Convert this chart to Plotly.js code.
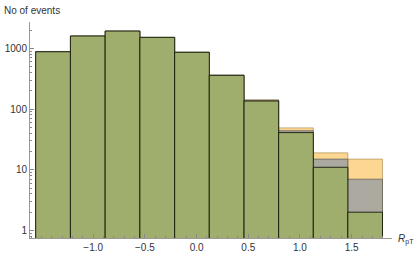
<!DOCTYPE html>
<html>
<head>
<meta charset="utf-8">
<script src="https://cdn.plot.ly/plotly-3.0.1.min.js"></script>
<style>html,body{margin:0;padding:0;background:#fff;}#chart{width:415px;height:257px;}</style>
</head>
<body>
<div id="chart"></div>
<script>
// Bin edges (R_pT)
const binEdges = [-1.556, -1.220, -0.884, -0.548, -0.212, 0.123, 0.459, 0.794, 1.129, 1.463, 1.798];
// Counts per bin for the three overlaid histograms
const orangeCounts = [890, 1600, 1930, 1520, 865, 362, 142, 49, 19, 15];
const grayCounts   = [890, 1600, 1930, 1520, 865, 362, 140, 44, 15, 7];
const greenCounts  = [880, 1600, 1930, 1520, 862, 360, 136, 41, 11, 2];
// Axis ticks
const yTickVals = [1, 10, 100, 1000];
const yTickText = ["1", "10", "100", "1000"];
const xTickVals = [-1.0, -0.5, 0.0, 0.5, 1.0, 1.5];
const xTickText = ["\u22121.0", "\u22120.5", "0.0", "0.5", "1.0", "1.5"];

const centers = binEdges.slice(0, -1).map((e, i) => (e + binEdges[i + 1]) / 2);
const widths = binEdges.slice(0, -1).map((e, i) => binEdges[i + 1] - e);

function barTrace(y, fill, line) {
  return {type: 'bar', x: centers, y: y, width: widths, base: 0.0001,
    marker: {color: fill, line: {color: line, width: 1}}, hoverinfo: 'skip', showlegend: false};
}

const yMinor = [];
for (let d = 0.1; d <= 1000; d *= 10) for (let k = 2; k <= 9; k++) yMinor.push(Math.round(d * k * 1000) / 1000);
const xMinor = [];
for (let v = -1.6; v <= 1.85; v += 0.1) xMinor.push(Math.round(v * 10) / 10);

const data = [
  barTrace(orangeCounts, '#fdd792', 'rgba(160,130,70,0.6)'),
  barTrace(grayCounts, '#aba9a0', 'rgba(70,70,70,0.6)'),
  barTrace(greenCounts, '#a0ae6d', 'rgba(20,25,10,0.9)')
];

const font = {family: 'Liberation Sans, Arial, sans-serif', size: 10, color: '#333'};
const layout = {
  width: 415, height: 257,
  margin: {l: 30, r: 23, t: 22, b: 19},
  paper_bgcolor: '#fff', plot_bgcolor: '#fff',
  barmode: 'overlay', bargap: 0,
  font: font,
  xaxis: {range: [-1.611, 1.890], showgrid: false, zeroline: false,
    showline: true, linecolor: '#999', linewidth: 1,
    tickmode: 'array', tickvals: xTickVals, ticktext: xTickText,
    ticks: 'inside', ticklen: 4, tickcolor: '#888', tickfont: font,
    minor: {tickmode: 'array', tickvals: xMinor, ticks: 'inside', ticklen: 2, tickcolor: '#888', showgrid: false}},
  yaxis: {type: 'log', range: [-0.124, 3.435], showgrid: false, zeroline: false,
    showline: true, linecolor: '#999', linewidth: 1,
    tickmode: 'array', tickvals: yTickVals, ticktext: yTickText,
    ticks: 'inside', ticklen: 4, tickcolor: '#888', tickfont: font,
    minor: {tickmode: 'array', tickvals: yMinor, ticks: 'inside', ticklen: 2, tickcolor: '#888', showgrid: false}},
  annotations: [
    {text: 'No of events', xref: 'paper', yref: 'paper', x: -0.078, y: 1.02, xanchor: 'left', yanchor: 'bottom', showarrow: false, font: font},
    {text: '<i>R</i><sub>pT</sub>', xref: 'paper', yref: 'paper', x: 1.01, y: -0.005, xanchor: 'left', yanchor: 'middle', showarrow: false, font: font}
  ]
};
Plotly.newPlot('chart', data, layout, {staticPlot: true, displayModeBar: false});
</script>
</body>
</html>
